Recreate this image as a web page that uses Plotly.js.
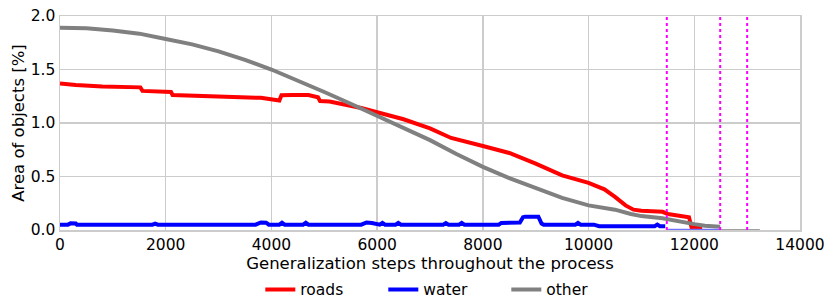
<!DOCTYPE html>
<html>
<head>
<meta charset="utf-8">
<script src="https://cdn.plot.ly/plotly-3.0.1.min.js"></script>
<style>html,body{margin:0;padding:0;background:#fff;}#chart{width:831px;height:301px;}</style>
</head>
<body>
<div id="chart"></div>
<script>
// ---- data ----
const roadsX = [0, 300, 800, 1200, 1520, 1560, 2000, 2100, 2130, 2600, 3000, 3500, 3800, 4150, 4190, 4400, 4700, 4880, 4920, 5100, 5300, 5500, 5700, 6000, 6200, 6500, 7000, 7400, 8000, 8300, 8500, 9000, 9500, 10000, 10300, 10500, 10700, 10850, 11000, 11400, 11500, 11900, 11950, 12150];
const roadsY = [1.37, 1.355, 1.34, 1.335, 1.333, 1.30, 1.297, 1.29, 1.262, 1.255, 1.25, 1.243, 1.235, 1.21, 1.26, 1.262, 1.262, 1.24, 1.205, 1.20, 1.18, 1.165, 1.14, 1.10, 1.075, 1.035, 0.95, 0.86, 0.785, 0.75, 0.72, 0.62, 0.51, 0.44, 0.38, 0.31, 0.23, 0.19, 0.18, 0.17, 0.15, 0.12, 0.02, 0.02];

const waterX = [0, 150, 200, 300, 320, 1750, 1800, 1850, 3700, 3800, 3900, 3950, 4150, 4200, 4250, 4600, 4650, 4700, 5700, 5800, 5900, 6050, 6100, 6150, 6350, 6400, 6450, 7250, 7300, 7350, 7550, 7600, 7650, 8300, 8350, 8500, 8600, 8700, 8760, 8800, 9050, 9110, 9150, 9750, 9800, 9850, 10100, 10200, 11250, 11300, 11350, 11450];
const waterY = [0.05, 0.05, 0.062, 0.06, 0.05, 0.05, 0.06, 0.05, 0.05, 0.07, 0.068, 0.05, 0.05, 0.068, 0.05, 0.05, 0.068, 0.05, 0.05, 0.07, 0.066, 0.05, 0.066, 0.05, 0.05, 0.066, 0.05, 0.05, 0.065, 0.05, 0.05, 0.066, 0.05, 0.05, 0.066, 0.07, 0.066, 0.07, 0.12, 0.125, 0.125, 0.06, 0.05, 0.05, 0.066, 0.05, 0.05, 0.035, 0.035, 0.05, 0.035, 0.035];

const otherX = [0, 500, 1000, 1500, 2000, 2500, 3000, 3500, 4000, 4500, 5000, 5500, 6000, 6500, 7000, 7500, 8000, 8500, 9000, 9500, 10000, 10500, 10800, 11000, 11400, 11700, 12000, 12200, 12490];
const otherY = [1.89, 1.885, 1.865, 1.835, 1.785, 1.735, 1.67, 1.59, 1.50, 1.40, 1.29, 1.18, 1.07, 0.96, 0.84, 0.71, 0.59, 0.485, 0.39, 0.30, 0.23, 0.19, 0.15, 0.13, 0.11, 0.08, 0.055, 0.04, 0.03];

// thin tails at the end of the process
const waterTailX = [11480, 12490];
const waterTailY = [0.006, 0.006];
const otherTailX = [12490, 13240];
const otherTailY = [0.004, 0.004];

// vertical markers
const markerX = [11480, 12490, 13000];

const xTicks = [0, 2000, 4000, 6000, 8000, 10000, 12000, 14000];
const yTicks = [0.0, 0.5, 1.0, 1.5, 2.0];
const yTickText = ['0.0', '0.5', '1.0', '1.5', '2.0'];

const FONT = 'DejaVu Sans, sans-serif';

const traces = [
  {x: roadsX, y: roadsY, name: 'roads', mode: 'lines', line: {color: '#ff0000', width: 4}},
  {x: waterX, y: waterY, name: 'water', mode: 'lines', line: {color: '#0000ff', width: 4}},
  {x: otherX, y: otherY, name: 'other', mode: 'lines', line: {color: '#808080', width: 4}},
  {x: waterTailX, y: waterTailY, showlegend: false, mode: 'lines', line: {color: '#7070ff', width: 1.2}},
  {x: otherTailX, y: otherTailY, showlegend: false, mode: 'lines', line: {color: '#a0a0a0', width: 1.2}}
];

const shapes = markerX.map(v => ({
  type: 'line', xref: 'x', yref: 'paper', x0: v, x1: v, y0: 0, y1: 1,
  line: {color: '#ff00ff', width: 2, dash: 'dot'}
}));

const layout = {
  width: 831, height: 301,
  margin: {l: 60, r: 31, t: 16, b: 71},
  paper_bgcolor: '#ffffff', plot_bgcolor: '#ffffff',
  font: {family: FONT, size: 15.5, color: '#000'},
  showlegend: true,
  legend: {orientation: 'h', xref: 'paper', x: 0.52, xanchor: 'center',
           yref: 'container', y: 0.037, yanchor: 'middle',
           entrywidth: 78, entrywidthmode: 'pixels',
           font: {family: FONT, size: 15.5, color: '#000'}, itemwidth: 30},
  xaxis: {range: [0, 14000], tickvals: xTicks, ticktext: xTicks.map(String),
          showgrid: true, gridcolor: '#cccccc', gridwidth: 1.5,
          showline: true, linecolor: '#cccccc', linewidth: 1.5, mirror: true,
          ticks: '', zeroline: false, automargin: false,
          tickfont: {family: FONT, size: 15.5, color: '#000'},
          title: {text: 'Generalization steps throughout the process', standoff: 7,
                  font: {family: FONT, size: 16.5, color: '#000'}}},
  yaxis: {range: [0, 2], tickvals: yTicks, ticktext: yTickText,
          showgrid: true, gridcolor: '#cccccc', gridwidth: 1.5,
          showline: true, linecolor: '#cccccc', linewidth: 1.5, mirror: true,
          ticks: '', zeroline: false, automargin: false,
          tickfont: {family: FONT, size: 15.5, color: '#000'},
          title: {text: 'Area of objects [%]', standoff: 2,
                  font: {family: FONT, size: 16.5, color: '#000'}}},
  shapes: shapes
};

Plotly.newPlot('chart', traces, layout, {displayModeBar: false, staticPlot: true});
</script>
</body>
</html>
